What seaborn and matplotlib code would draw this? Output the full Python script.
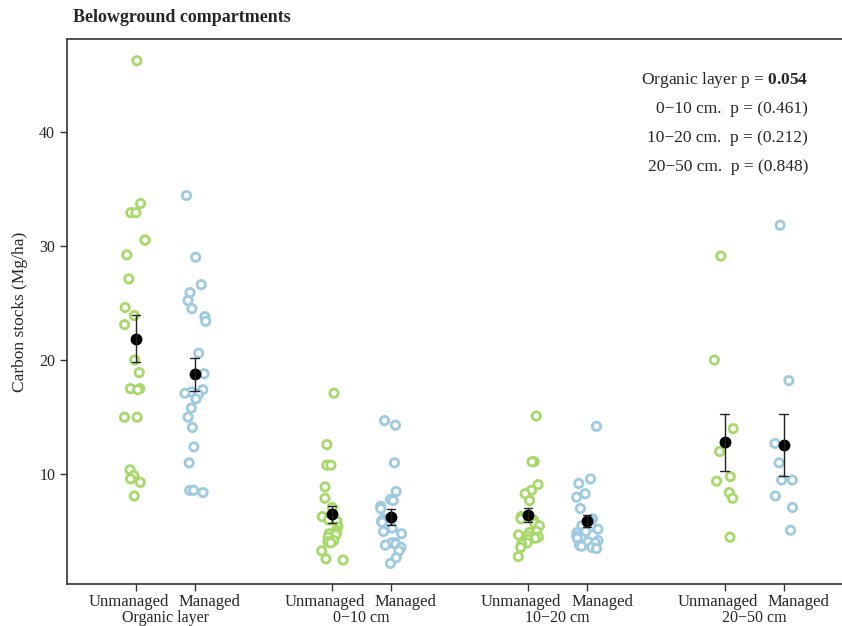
import numpy as np
import pandas as pd
import seaborn as sns
import matplotlib.pyplot as plt
from matplotlib.transforms import ScaledTranslation

# Carbon stocks (Mg/ha), per compartment and treatment
groups = ["Organic layer", "0\u221210 cm", "10\u221220 cm", "20\u221250 cm"]
treatments = ["Unmanaged", "Managed"]

org_unmanaged = [46.2, 33.7, 32.9, 32.9, 30.5, 30.5, 29.2, 27.1, 24.6, 23.9, 23.1, 20.0,
                 18.9, 17.5, 17.5, 17.4, 15.0, 15.0, 10.4, 9.9, 9.6, 9.3, 8.1]
org_managed = [34.4, 29.0, 26.6, 25.9, 25.2, 24.5, 23.8, 23.4, 20.6, 18.8, 17.4, 17.2,
               17.1, 17.0, 16.6, 15.8, 15.0, 14.1, 12.4, 11.0, 8.6, 8.6, 8.4]
d010_unmanaged = [17.1, 12.6, 10.8, 10.8, 8.9, 7.9, 7.1, 6.3, 6.1, 6.0, 5.9, 5.4,
                  5.1, 4.9, 4.8, 4.7, 4.5, 4.2, 4.1, 4.0, 3.3, 2.6, 2.5]
d010_managed = [14.7, 14.3, 11.0, 8.5, 7.8, 7.7, 7.2, 7.0, 6.1, 6.0, 5.9, 5.8,
                5.3, 5.0, 4.8, 4.0, 4.0, 3.9, 3.8, 3.6, 3.3, 2.7, 2.2]
d1020_unmanaged = [15.1, 11.1, 11.1, 9.1, 8.6, 8.3, 7.7, 6.3, 6.1, 6.0, 5.7, 5.5,
                   5.0, 4.9, 4.7, 4.6, 4.5, 4.4, 4.3, 4.0, 3.9, 3.6, 2.8]
d1020_managed = [14.2, 9.6, 9.2, 8.3, 8.0, 7.0, 6.1, 5.9, 5.6, 5.5, 5.4, 5.2,
                 5.0, 4.9, 4.6, 4.4, 4.2, 4.1, 4.0, 3.8, 3.7, 3.6, 3.5]
d2050_unmanaged = [29.1, 20.0, 14.0, 12.0, 9.8, 9.4, 8.4, 7.9, 4.5]
d2050_managed = [31.8, 18.2, 12.7, 11.0, 9.5, 9.5, 8.1, 7.1, 5.1]

p_labels = ["Organic layer p = $\\mathbf{0.054}$",
            "0\u221210 cm.  p = (0.461)",
            "10\u221220 cm.  p = (0.212)",
            "20\u221250 cm.  p = (0.848)"]

colors = {"Unmanaged": "#a6d96a", "Managed": "#9ecae1"}

series = [(org_unmanaged, org_managed), (d010_unmanaged, d010_managed),
          (d1020_unmanaged, d1020_managed), (d2050_unmanaged, d2050_managed)]

# Long table; each treatment sits 0.15 left/right of its compartment slot
offset = {"Unmanaged": -0.15, "Managed": 0.15}
rows = []
for gi, (group, pair) in enumerate(zip(groups, series)):
    for treat, vals in zip(treatments, pair):
        for v in vals:
            rows.append({"group": group, "treatment": treat,
                         "pos": round(gi + offset[treat], 2), "value": v})
df = pd.DataFrame(rows)

sns.set_style("ticks")
plt.rcParams["font.family"] = ["Liberation Serif", "DejaVu Serif"]
plt.rcParams["mathtext.fontset"] = "custom"
plt.rcParams["mathtext.rm"] = "Liberation Serif"
plt.rcParams["mathtext.bf"] = "Liberation Serif:bold"

fig = plt.figure(figsize=(8.42, 6.26), dpi=100)
ax = fig.add_axes([67 / 842, 42 / 626, 1 - 67 / 842, 545 / 626])

np.random.seed(3)
sns.stripplot(data=df, x="pos", y="value", hue="treatment", palette=colors,
              native_scale=True, jitter=0.2, size=6.0, linewidth=0,
              legend=False, ax=ax, zorder=2)
# hollow rings
for coll in ax.collections:
    fc = coll.get_facecolors()
    coll.set_edgecolors(fc)
    coll.set_facecolors("white")
    coll.set_linewidths(2.0)

sns.pointplot(data=df, x="pos", y="value", native_scale=True, errorbar="se",
              color="black", linestyle="none", markersize=6.5, capsize=0.14,
              err_kws={"linewidth": 1.0, "color": "#222222"}, ax=ax, zorder=5)

ticks = sorted(df["pos"].unique())
ax.set_xticks(ticks)
ax.set_xticklabels([])
# treatment labels: the pair reads as one line centred under each compartment
xtrans = ax.get_xaxis_transform()
shift = {"Unmanaged": ("right", 0.33), "Managed": ("left", -0.16)}
for gi, group in enumerate(groups):
    for treat in treatments:
        ha, dx = shift[treat]
        ax.text(gi + offset[treat], -0.033, treat, fontsize=12, ha=ha, va="center",
                transform=xtrans + ScaledTranslation(dx, 0, fig.dpi_scale_trans))
    ax.text(gi, -0.062, group, transform=xtrans,
            ha="center", va="center", fontsize=11.5)

ax.set_xlim(-0.5, 3.448)
ax.set_ylim(0.4, 48.1)
ax.set_yticks([10, 20, 30, 40])
ax.tick_params(axis="y", labelsize=11.5, length=5, width=1, color="#333333")
ax.tick_params(axis="x", length=5, width=1, color="#333333", pad=3)
ax.set_xlabel("")
ax.set_ylabel("Carbon stocks (Mg/ha)", fontsize=12.5, labelpad=8)

for side in ["left", "bottom", "top"]:
    ax.spines[side].set_color("#333333")
    ax.spines[side].set_linewidth(1.2)
ax.spines["right"].set_visible(False)

for i, txt in enumerate(p_labels):
    ax.text(0.956, 0.925 - i * 0.0535, txt, transform=ax.transAxes,
            ha="right", va="center", fontsize=12.5)

fig.text(73 / 842, 1 - 18 / 626, "Belowground compartments", fontsize=13,
         fontweight="bold", ha="left", va="center")

fig.savefig("out.png", dpi=100)
